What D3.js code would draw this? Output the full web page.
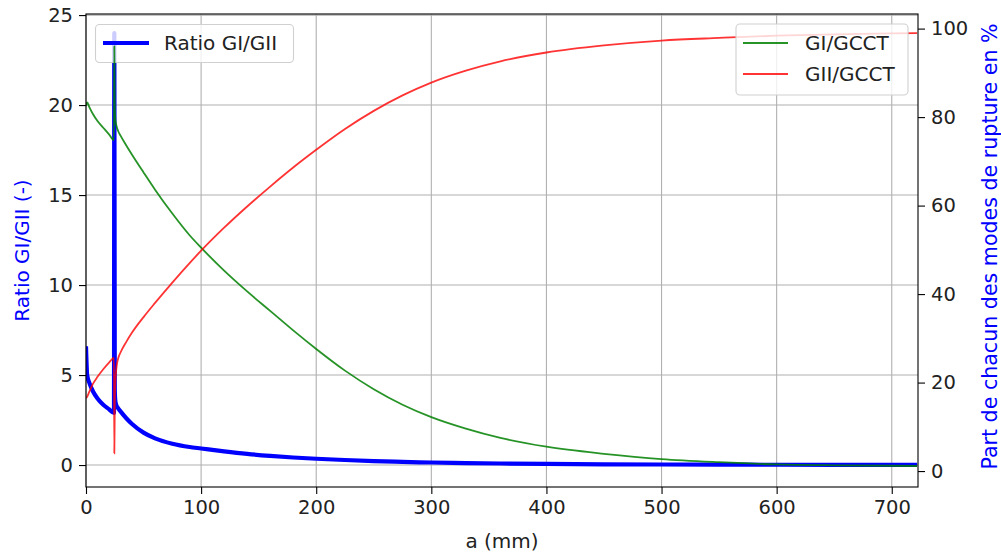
<!DOCTYPE html>
<html>
<head>
<meta charset="utf-8">
<script src="https://cdn.jsdelivr.net/npm/d3@7"></script>
<style>
  html, body { margin: 0; padding: 0; background: #ffffff; }
  svg { display: block; font-family: "DejaVu Sans", sans-serif; }
</style>
</head>
<body>
<svg id="chart" width="1001" height="555"></svg>
<script>
// ---- data ----
const aValues = [0, 1, 3, 6, 10, 15, 20, 24.3, 24.6, 25.0, 25.5, 26.5, 28, 30, 35, 40, 50, 60, 75, 90,
  100, 120, 140, 160, 180, 200, 225, 250, 275, 300, 330, 360, 400, 450, 500, 550, 600, 650, 700, 722];
const ratioGI_GII = [6.6, 5.0, 4.55, 4.1, 3.7, 3.35, 3.1, 2.9, 24.0, 4.2, 3.55, 3.3, 3.15, 2.98, 2.6, 2.28, 1.8, 1.48, 1.18, 1.0,
  0.92, 0.76, 0.62, 0.51, 0.42, 0.35, 0.28, 0.22, 0.175, 0.14, 0.11, 0.085, 0.06, 0.042, 0.03, 0.022, 0.016, 0.012, 0.009, 0.008];
const partGI = [82.5, 83.3, 82.2, 80.7, 79.1, 77.6, 76.1, 74.8, 96, 83, 79.5, 78, 76.8, 75.8, 73.6, 71.5, 67.5, 63.6, 58.2, 53.3,
  50.5, 45.3, 40.6, 36.2, 31.8, 27.6, 22.7, 18.5, 15, 12.2, 9.6, 7.5, 5.5, 3.9, 2.7, 2.0, 1.5, 1.3, 1.2, 1.15];
const partGII = [16.5, 16.8, 18, 19.7, 21.3, 23.0, 24.5, 25.6, 4.0, 15, 20, 23.5, 25.5, 26.8, 29.2, 31.3, 34.8, 38.0, 42.6, 47.0,
  49.8, 55.0, 59.8, 64.3, 68.6, 72.6, 77.3, 81.4, 84.9, 87.8, 90.5, 92.6, 94.6, 96.2, 97.3, 97.9, 98.4, 98.7, 98.9, 99.0];

const xTicks = [0, 100, 200, 300, 400, 500, 600, 700];
const leftTicks = [0, 5, 10, 15, 20, 25];
const rightTicks = [0, 20, 40, 60, 80, 100];

const xLabel = "a (mm)";
const leftLabel = "Ratio GI/GII (-)";
const rightLabel = "Part de chacun des modes de rupture en %";
const seriesNames = ["Ratio GI/GII", "GI/GCCT", "GII/GCCT"];

// ---- layout ----
const L = 86, R = 918, T = 14, B = 487;
const svg = d3.select("#chart");

const x = d3.scaleLinear().domain([0, 722.8]).range([L, R]);
const yL = d3.scaleLinear().domain([-1.22, 25.06]).range([B, T]);
const yR = d3.scaleLinear().domain([-3.6, 103.3]).range([B, T]);

svg.append("defs").append("clipPath").attr("id", "clip")
  .append("rect").attr("x", L).attr("y", T).attr("width", R - L).attr("height", B - T);

// grid
const grid = svg.append("g");
grid.selectAll("line.vx").data(xTicks).enter().append("line")
  .attr("x1", d => x(d)).attr("x2", d => x(d)).attr("y1", T).attr("y2", B)
  .attr("stroke", "#b0b0b0").attr("stroke-width", 1.1);
grid.selectAll("line.hy").data(leftTicks).enter().append("line")
  .attr("x1", L).attr("x2", R).attr("y1", d => yL(d)).attr("y2", d => yL(d))
  .attr("stroke", "#b0b0b0").attr("stroke-width", 1.1);

const pts = (vals) => aValues.map((a, i) => [a, vals[i]]);

const plot = svg.append("g").attr("clip-path", "url(#clip)");

// blue ratio line (left axis)
plot.append("path")
  .datum(pts(ratioGI_GII))
  .attr("fill", "none").attr("stroke", "#0000ff").attr("stroke-width", 4.2)
  .attr("stroke-linejoin", "round")
  .attr("d", d3.line().x(d => x(d[0])).y(d => yL(d[1])).curve(d3.curveMonotoneX));

// legend helper
function legend(g, x0, y0, w, h, items) {
  g.append("rect").attr("x", x0).attr("y", y0).attr("width", w).attr("height", h)
    .attr("rx", 4).attr("ry", 4)
    .attr("fill", "rgba(255,255,255,0.8)").attr("stroke", "#d0d0d0").attr("stroke-width", 1.1);
  items.forEach(it => {
    g.append("line").attr("x1", it.lx1).attr("x2", it.lx2).attr("y1", it.ly).attr("y2", it.ly)
      .attr("stroke", it.color).attr("stroke-width", it.width).attr("stroke-opacity", it.opacity || 1);
    g.append("text").attr("x", it.tx).attr("y", it.ly).attr("dy", "0.36em")
      .attr("font-size", 20).attr("fill", "#222").text(it.label);
  });
}
legend(svg.append("g"), 95.5, 24.5, 198, 38, [
  { lx1: 103, lx2: 149, ly: 43, color: "#0000ff", width: 4.2, tx: 164, label: seriesNames[0] }
]);

const plot2 = svg.append("g").attr("clip-path", "url(#clip)");
plot2.append("path")
  .datum(pts(partGI))
  .attr("fill", "none").attr("stroke", "#008000").attr("stroke-opacity", 0.85).attr("stroke-width", 1.8)
  .attr("d", d3.line().x(d => x(d[0])).y(d => yR(d[1])).curve(d3.curveMonotoneX));
plot2.append("path")
  .datum(pts(partGII))
  .attr("fill", "none").attr("stroke", "#ff0000").attr("stroke-opacity", 0.8).attr("stroke-width", 1.8)
  .attr("d", d3.line().x(d => x(d[0])).y(d => yR(d[1])).curve(d3.curveMonotoneX));

// frame
svg.append("rect").attr("x", L).attr("y", T).attr("width", R - L).attr("height", B - T)
  .attr("fill", "none").attr("stroke", "#000").attr("stroke-width", 1.1);

// axes
function styleAxis(g) {
  g.select(".domain").remove();
  g.selectAll(".tick line").attr("stroke", "#000").attr("stroke-width", 1.1);
  g.selectAll(".tick text").attr("font-size", 19.5).attr("fill", "#222")
    .attr("font-family", "DejaVu Sans, sans-serif");
}
svg.append("g").attr("transform", `translate(0,${B})`)
  .call(d3.axisBottom(x).tickValues(xTicks).tickFormat(d3.format("d")).tickSize(7).tickPadding(6))
  .call(styleAxis);
svg.append("g").attr("transform", `translate(${L},0)`)
  .call(d3.axisLeft(yL).tickValues(leftTicks).tickFormat(d3.format("d")).tickSize(7).tickPadding(6))
  .call(styleAxis);
svg.append("g").attr("transform", `translate(${R},0)`)
  .call(d3.axisRight(yR).tickValues(rightTicks).tickFormat(d3.format("d")).tickSize(7).tickPadding(6))
  .call(styleAxis);

// axis labels
svg.append("text").attr("x", (L + R) / 2).attr("y", 548).attr("text-anchor", "middle")
  .attr("font-size", 20).attr("fill", "#222").text(xLabel);
svg.append("text").attr("transform", `translate(29,${(T + B) / 2}) rotate(-90)`)
  .attr("text-anchor", "middle").attr("font-size", 20).attr("fill", "#0000ff").text(leftLabel);
svg.append("text").attr("transform", `translate(997,${(T + B) / 2 - 4}) rotate(-90)`)
  .attr("text-anchor", "middle").attr("font-size", 20.6).attr("fill", "#0000ff").text(rightLabel);

// legend 2 (right)
legend(svg.append("g"), 736, 24, 172, 71, [
  { lx1: 743, lx2: 788, ly: 43, color: "#008000", width: 1.8, opacity: 0.85, tx: 805, label: seriesNames[1] },
  { lx1: 743, lx2: 788, ly: 74, color: "#ff0000", width: 1.8, opacity: 0.8, tx: 805, label: seriesNames[2] }
]);
</script>
</body>
</html>
